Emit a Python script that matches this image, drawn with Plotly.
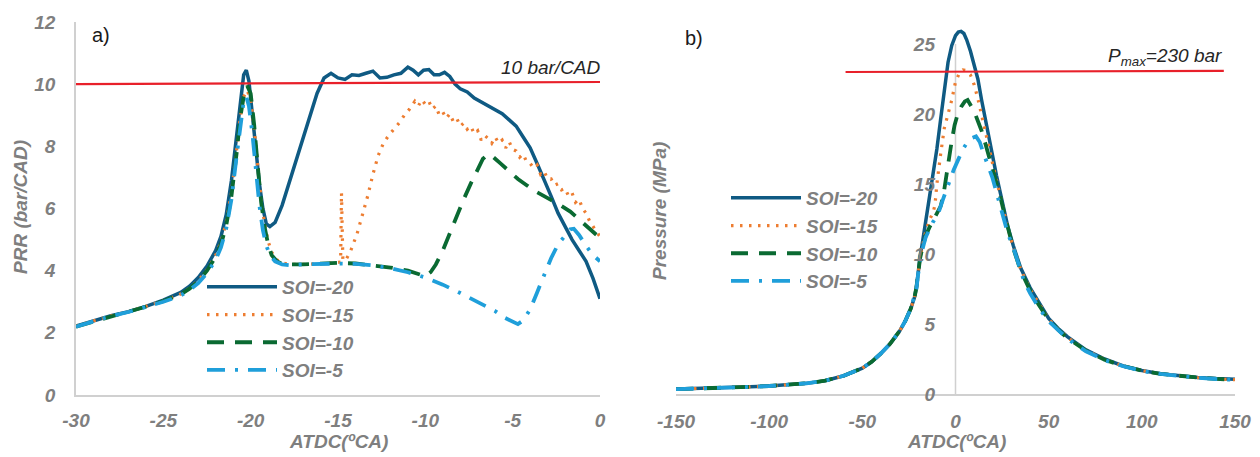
import plotly.graph_objects as go

W, H = 1260, 457

# ---------------- panel a) PRR (bar/CAD) vs crank angle ----------------
prr_x_soi20 = [-30, -29, -28, -27, -26, -25, -24, -23.5, -23, -22.5, -22, -21.7, -21.4, -21.1, -20.8,
               -20.6, -20.4, -20.25, -20.1, -19.9, -19.7, -19.5, -19.3, -19.1, -18.9, -18.6, -18.2,
               -17.7, -17.2, -16.7, -16.2, -15.8, -15.4, -15.0, -14.6, -14.2, -13.8, -13.4, -13.0,
               -12.6, -12.2, -11.8, -11.4, -11.0, -10.7, -10.4, -10.1, -9.8, -9.5, -9.2, -8.9, -8.6,
               -8.3, -8.0, -7.6, -7.2, -6.8, -6.4, -6.0, -5.6, -5.2, -4.8, -4.4, -4.0, -3.6, -3.2,
               -2.8, -2.4, -2.0, -1.6, -1.2, -0.8, -0.4, 0]
prr_y_soi20 = [2.22, 2.38, 2.55, 2.68, 2.85, 3.05, 3.3, 3.5, 3.78, 4.15, 4.65, 5.1, 5.8, 6.9, 8.4,
               9.5, 10.3, 10.45, 10.1, 9.0, 7.9, 6.8, 6.0, 5.5, 5.42, 5.55, 6.1,
               7.0, 7.9, 8.8, 9.7, 10.2, 10.35, 10.2, 10.15, 10.3, 10.28, 10.35, 10.42,
               10.2, 10.22, 10.3, 10.35, 10.55, 10.45, 10.3, 10.45, 10.47, 10.3, 10.3, 10.38, 10.25,
               10.0, 9.85, 9.75, 9.55, 9.42, 9.3, 9.15, 9.05, 8.85, 8.65, 8.3, 7.95, 7.45, 6.95,
               6.4, 5.85, 5.4, 5.0, 4.65, 4.3, 3.75, 3.1]

prr_x_soi15 = [-30, -29, -28, -27, -26, -25, -24, -23.5, -23, -22.5, -22, -21.7, -21.4, -21.1, -20.8,
               -20.6, -20.4, -20.2, -20.0, -19.8, -19.6, -19.4, -19.2, -19.0, -18.8, -18.5, -18.2,
               -17.8, -17.0, -16.0, -15.2, -14.85, -14.8, -14.72, -14.5, -14.3, -14.1, -13.9, -13.6,
               -13.3, -13.0, -12.7, -12.4, -12.1, -11.8, -11.5, -11.2, -10.9, -10.6, -10.4, -10.2,
               -10.0, -9.8, -9.6, -9.4, -9.2, -9.0, -8.8, -8.6, -8.4, -8.2, -8.0, -7.8, -7.6, -7.4,
               -7.2, -7.0, -6.8, -6.6, -6.4, -6.2, -6.0, -5.8, -5.6, -5.4, -5.2, -5.0, -4.8, -4.6,
               -4.4, -4.2, -4.0, -3.8, -3.6, -3.4, -3.2, -3.0, -2.8, -2.6, -2.4, -2.2, -2.0, -1.8,
               -1.6, -1.4, -1.2, -1.0, -0.8, -0.6, -0.4, -0.2, 0]
prr_y_soi15 = [2.22, 2.38, 2.55, 2.68, 2.85, 3.03, 3.25, 3.43, 3.68, 4.02, 4.5, 4.92, 5.55, 6.5, 7.9,
               8.9, 9.6, 9.8, 9.5, 8.6, 7.4, 6.3, 5.5, 4.95, 4.6, 4.35, 4.25,
               4.2, 4.2, 4.22, 4.25, 4.28, 6.5, 4.32, 4.4, 4.6, 4.9, 5.2, 5.8,
               6.4, 7.1, 7.7, 8.1, 8.35, 8.55, 8.75, 9.0, 9.2, 9.45, 9.3, 9.5,
               9.35, 9.45, 9.2, 9.3, 9.0, 9.1, 8.9, 9.05, 8.8, 8.9, 8.65, 8.75, 8.55, 8.65,
               8.4, 8.5, 8.2, 8.35, 8.25, 8.1, 8.3, 8.1, 8.2, 7.95, 8.15, 7.9, 7.85, 7.65,
               7.75, 7.5, 7.45, 7.3, 7.4, 7.1, 7.2, 6.95, 6.95, 6.75, 6.8, 6.6, 6.65, 6.4,
               6.5, 6.2, 6.3, 6.0, 5.85, 5.6, 5.4, 5.25, 5.1]

prr_x_soi10 = [-30, -29, -28, -27, -26, -25, -24, -23.5, -23, -22.5, -22, -21.7, -21.4, -21.1, -20.8,
               -20.6, -20.4, -20.2, -20.0, -19.8, -19.6, -19.4, -19.2, -19.0, -18.8, -18.5, -18.2,
               -17.8, -17, -16, -15, -14, -13, -12, -11, -10.4, -10.0, -9.7, -9.4, -9.0, -8.6, -8.2,
               -7.8, -7.4, -7.0, -6.7, -6.4, -6.1, -5.7, -5.2, -4.7, -4.2, -3.7, -3.2, -2.7, -2.2,
               -1.7, -1.2, -0.7, -0.2, 0]
prr_y_soi10 = [2.2, 2.37, 2.54, 2.68, 2.84, 3.02, 3.24, 3.42, 3.66, 4.0, 4.45, 4.85, 5.45, 6.4, 7.8,
               8.9, 9.6, 9.95, 9.7, 8.7, 7.4, 6.2, 5.4, 4.85, 4.5, 4.3, 4.22,
               4.2, 4.2, 4.22, 4.25, 4.23, 4.18, 4.1, 4.0, 3.9, 3.82, 3.95, 4.2, 4.65, 5.2, 5.8,
               6.3, 6.8, 7.25, 7.6, 7.75, 7.65, 7.45, 7.2, 6.95, 6.75, 6.55, 6.4, 6.25, 6.08,
               5.9, 5.65, 5.4, 5.15, 5.1]

prr_x_soi5 = [-30, -29, -28, -27, -26, -25, -24, -23.5, -23, -22.5, -22, -21.7, -21.4, -21.1, -20.8,
              -20.6, -20.4, -20.25, -20.1, -19.9, -19.7, -19.5, -19.3, -19.1, -18.9, -18.6, -18.2,
              -17.8, -17, -16, -15, -14, -13, -12, -11, -10, -9, -8, -7, -6, -5.5, -5.0, -4.7,
              -4.4, -4.0, -3.6, -3.2, -2.8, -2.4, -2.0, -1.7, -1.5, -1.2, -0.8, -0.4, 0]
prr_y_soi5 = [2.2, 2.37, 2.54, 2.67, 2.83, 3.0, 3.2, 3.38, 3.6, 3.92, 4.35, 4.75, 5.35, 6.3, 7.7,
              8.7, 9.45, 9.6, 9.3, 8.4, 7.2, 6.1, 5.3, 4.8, 4.5, 4.3, 4.2,
              4.18, 4.2, 4.22, 4.23, 4.22, 4.17, 4.08, 3.95, 3.78, 3.55, 3.28, 2.98, 2.7, 2.5, 2.35, 2.28,
              2.4, 2.75, 3.3, 3.85, 4.4, 4.85, 5.15, 5.33, 5.35, 5.15, 4.8, 4.5, 4.3]

# ---------------- panel b) cylinder pressure (MPa) vs crank angle ----------------
p_x_soi20 = [-150, -140, -130, -120, -110, -100, -90, -80, -70, -60, -50, -45, -40, -35, -30, -27, -24,
             -22, -21, -20, -19, -18, -16, -14, -12, -10, -8, -6, -4, -2, 0, 1.5, 3, 4.5, 6, 8, 10,
             12, 14, 16, 18, 20, 22, 24, 26, 28, 31, 35, 40, 45, 50, 55, 60, 70, 80, 90, 100, 110,
             120, 130, 140, 150]
p_y_soi20 = [0.35, 0.38, 0.42, 0.46, 0.51, 0.57, 0.65, 0.76, 0.95, 1.3, 1.85, 2.3, 2.9, 3.6, 4.5, 5.2, 6.1,
             6.9, 7.6, 8.8, 9.8, 10.6, 12.3, 13.9, 15.5, 17.5, 19.6, 21.8, 23.7, 24.9, 25.6, 25.85, 25.9,
             25.75, 25.3, 24.5, 23.6, 22.5, 21.0, 19.6, 18.2, 16.9, 15.6, 14.4, 13.1, 12.0, 10.6, 9.0,
             7.6, 6.5, 5.4, 4.7, 4.1, 3.15, 2.5, 2.0, 1.68, 1.45, 1.3, 1.18, 1.1, 1.05]

p_x_soi15 = [-150, -140, -130, -120, -110, -100, -90, -80, -70, -60, -50, -45, -40, -35, -30, -27, -24,
             -22, -21, -20, -19, -18, -16, -14, -12, -11, -10, -8, -6, -4, -2, 0, 2, 4, 6, 8, 10, 12,
             14, 16, 18, 20, 22, 24, 26, 28, 31, 35, 40, 45, 50, 55, 60, 70, 80, 90, 100, 110, 120,
             130, 140, 150]
p_y_soi15 = [0.35, 0.38, 0.42, 0.46, 0.51, 0.57, 0.65, 0.76, 0.95, 1.3, 1.85, 2.3, 2.9, 3.6, 4.5, 5.2, 6.1,
             6.9, 7.6, 8.7, 9.7, 10.4, 11.6, 12.4, 13.0, 13.5, 15.0, 17.1, 19.0, 20.0, 21.0, 22.3, 22.9,
             23.15, 23.1, 22.8, 22.1, 21.1, 20.0, 18.8, 17.6, 16.4, 15.3, 14.2, 13.0, 11.9, 10.5, 8.9,
             7.5, 6.4, 5.35, 4.65, 4.05, 3.12, 2.48, 2.0, 1.67, 1.44, 1.28, 1.17, 1.08, 1.02]

p_x_soi10 = [-150, -140, -130, -120, -110, -100, -90, -80, -70, -60, -50, -45, -40, -35, -30, -27, -24,
             -22, -21, -20, -19, -18, -16, -14, -12, -10, -8, -6.5, -5, -3.5, -2, -0.5, 1, 3, 5, 6.5,
             8, 10, 12, 14, 16, 18, 20, 22, 24, 26, 28, 31, 35, 40, 45, 50, 55, 60, 70, 80, 90, 100,
             110, 120, 130, 140, 150]
p_y_soi10 = [0.35, 0.38, 0.42, 0.46, 0.51, 0.57, 0.65, 0.76, 0.95, 1.3, 1.85, 2.3, 2.9, 3.6, 4.5, 5.2, 6.1,
             6.9, 7.6, 8.7, 9.7, 10.3, 11.3, 11.9, 12.4, 12.8, 13.4, 14.2, 15.6, 16.9, 18.1, 19.2, 19.9,
             20.5, 20.9, 21.0, 20.7, 20.2, 19.5, 18.8, 17.9, 17.0, 16.1, 15.2, 14.1, 13.0, 11.9, 10.4,
             8.8, 7.4, 6.3, 5.3, 4.6, 4.0, 3.1, 2.45, 2.0, 1.67, 1.44, 1.28, 1.17, 1.08, 1.02]

p_x_soi5 = [-150, -140, -130, -120, -110, -100, -90, -80, -70, -60, -50, -45, -40, -35, -30, -27, -24,
            -22, -21, -20, -19, -18, -16, -14, -12, -10, -9, -7, -5, -3, -1, 2, 4.5, 7, 9, 11, 13, 15,
            17, 19.7, 22, 25, 28, 31.4, 36.7, 40, 45, 50, 55, 60, 70, 80, 90, 100, 110, 120, 130,
            140, 150]
p_y_soi5 = [0.35, 0.38, 0.42, 0.46, 0.51, 0.57, 0.65, 0.76, 0.95, 1.3, 1.85, 2.3, 2.9, 3.6, 4.5, 5.2, 6.1,
            6.9, 7.5, 8.6, 9.6, 10.2, 11.2, 11.8, 12.3, 12.7, 13.0, 13.8, 14.6, 15.3, 16.0, 16.9, 17.6,
            18.1, 18.3, 18.4, 18.0, 17.2, 16.5, 15.5, 14.4, 12.9, 11.5, 10.3, 8.1, 7.2, 6.1, 5.2, 4.55,
            3.95, 3.05, 2.42, 1.98, 1.65, 1.43, 1.27, 1.16, 1.07, 1.01]

# tick labels (hyphen-minus as in the original)
a_xticks = [-30, -25, -20, -15, -10, -5, 0]
a_xtext = ["-30", "-25", "-20", "-15", "-10", "-5", "0"]
a_yticks = [0, 2, 4, 6, 8, 10, 12]
b_xticks = [-150, -100, -50, 0, 50, 100, 150]
b_xtext = ["-150", "-100", "-50", "0", "50", "100", "150"]
b_yticks = [0, 5, 10, 15, 20, 25]

series_names = ["SOI=-20", "SOI=-15", "SOI=-10", "SOI=-5"]
series_colors = ["#0F5A83", "#ED7D31", "#0A6A32", "#1F9FDA"]
series_dash = ["solid", "2.5px,6.5px", "17px,11px", "18px,10px,3px,10px"]
series_width = [3.5, 3.2, 3.8, 3.8]

prr_x = [prr_x_soi20, prr_x_soi15, prr_x_soi10, prr_x_soi5]
prr_y = [prr_y_soi20, prr_y_soi15, prr_y_soi10, prr_y_soi5]
p_x = [p_x_soi20, p_x_soi15, p_x_soi10, p_x_soi5]
p_y = [p_y_soi20, p_y_soi15, p_y_soi10, p_y_soi5]

PRR_LIMIT = 10       # bar/CAD
PMAX_LIMIT = 23      # MPa (230 bar)

fig = go.Figure()
for i in range(4):
    fig.add_trace(go.Scatter(x=prr_x[i], y=prr_y[i], mode="lines", name=series_names[i],
                             line=dict(color=series_colors[i], dash=series_dash[i], width=series_width[i]),
                             xaxis="x", yaxis="y", legend="legend"))
for i in range(4):
    fig.add_trace(go.Scatter(x=p_x[i], y=p_y[i], mode="lines", name=series_names[i],
                             line=dict(color=series_colors[i], dash=series_dash[i], width=series_width[i]),
                             xaxis="x2", yaxis="y2", legend="legend2"))

GRAY = "#7F7F7F"
AXIS_LINE = "#D0D0D0"
FAM = "Arial, Liberation Sans, sans-serif"
tickfont = dict(family=FAM, size=19, color=GRAY, weight="bold", style="italic")

def px2x(p):
    return p / W

def px2y(p):
    return 1 - p / H

common = dict(showgrid=False, zeroline=False, ticks="", tickfont=tickfont, automargin=False)

fig.update_layout(
    width=W, height=H,
    margin=dict(l=0, r=0, t=0, b=0, autoexpand=False),
    paper_bgcolor="white", plot_bgcolor="white",
    xaxis=dict(domain=[px2x(76), px2x(600)], range=[-30, 0], tickmode="array",
               tickvals=a_xticks, ticktext=a_xtext,
               showline=True, linecolor=AXIS_LINE, linewidth=1.5,
               ticklabelstandoff=7, anchor="y", **common),
    yaxis=dict(domain=[px2y(395), px2y(22)], range=[0, 12], tickmode="array", tickvals=a_yticks,
               showline=True, linecolor=AXIS_LINE, linewidth=1.5,
               ticklabelstandoff=15, anchor="x", **common),
    xaxis2=dict(domain=[px2x(676), px2x(1235)], range=[-150, 150], tickmode="array",
                tickvals=b_xticks, ticktext=b_xtext,
                showline=True, linecolor=AXIS_LINE, linewidth=1.5,
                ticklabelstandoff=9, anchor="y2", **common),
    yaxis2=dict(domain=[px2y(394), px2y(17.4)], range=[0, 26.9], tickmode="array", tickvals=b_yticks,
                showline=False, ticklabelstandoff=20,
                anchor="free", position=px2x(955), **common),
    legend=dict(x=px2x(202), y=px2y(268), xanchor="left", yanchor="top", bgcolor="rgba(0,0,0,0)",
                itemwidth=70, tracegroupgap=0,
                font=dict(family=FAM, size=19, color=GRAY, weight="bold", style="italic")),
    legend2=dict(x=px2x(726), y=px2y(179), xanchor="left", yanchor="top", bgcolor="rgba(0,0,0,0)",
                 itemwidth=70, tracegroupgap=0,
                 font=dict(family=FAM, size=19, color=GRAY, weight="bold", style="italic")),
    showlegend=True,
)

# limit lines and the TDC axis line of panel b
fig.add_shape(type="line", xref="x", yref="y", x0=-30, x1=0, y0=PRR_LIMIT, y1=PRR_LIMIT + 0.07,
              line=dict(color="#E8202A", width=2.2))
fig.add_shape(type="line", xref="x2", yref="y2", x0=0, x1=0, y0=0, y1=25,
              line=dict(color=AXIS_LINE, width=1.5), layer="below")
fig.add_shape(type="line", xref="x2", yref="y2", x0=-59, x1=144, y0=PMAX_LIMIT, y1=PMAX_LIMIT + 0.08,
              line=dict(color="#E8202A", width=2.2))

title_font = dict(family=FAM, size=19, color=GRAY, weight="bold", style="italic")
note_font = dict(family=FAM, size=19, color="#262626", style="italic")
label_font = dict(family=FAM, size=20, color="#1a1a1a")

annots = [
    dict(text="PRR (bar/CAD)", x=px2x(20), y=px2y(207), textangle=-90, font=title_font),
    dict(text="ATDC(ºCA)", x=px2x(338), y=px2y(441), font=title_font),
    dict(text="Pressure (MPa)", x=px2x(659), y=px2y(211), textangle=-90, font=title_font),
    dict(text="ATDC(ºCA)", x=px2x(956), y=px2y(441), font=title_font),
    dict(text="10 bar/CAD", x=px2x(603), y=px2y(68), xanchor="right", font=note_font),
    dict(text="P<sub>max</sub>=230 bar", x=px2x(1224), y=px2y(57), xanchor="right", font=note_font),
    dict(text="a)", x=px2x(101), y=px2y(35), font=label_font),
    dict(text="b)", x=px2x(694), y=px2y(38), font=label_font),
]
for a in annots:
    a.update(xref="paper", yref="paper", showarrow=False)
    a.setdefault("xanchor", "center")
    a.setdefault("yanchor", "middle")
    fig.add_annotation(**a)

fig.write_html("out.html")
